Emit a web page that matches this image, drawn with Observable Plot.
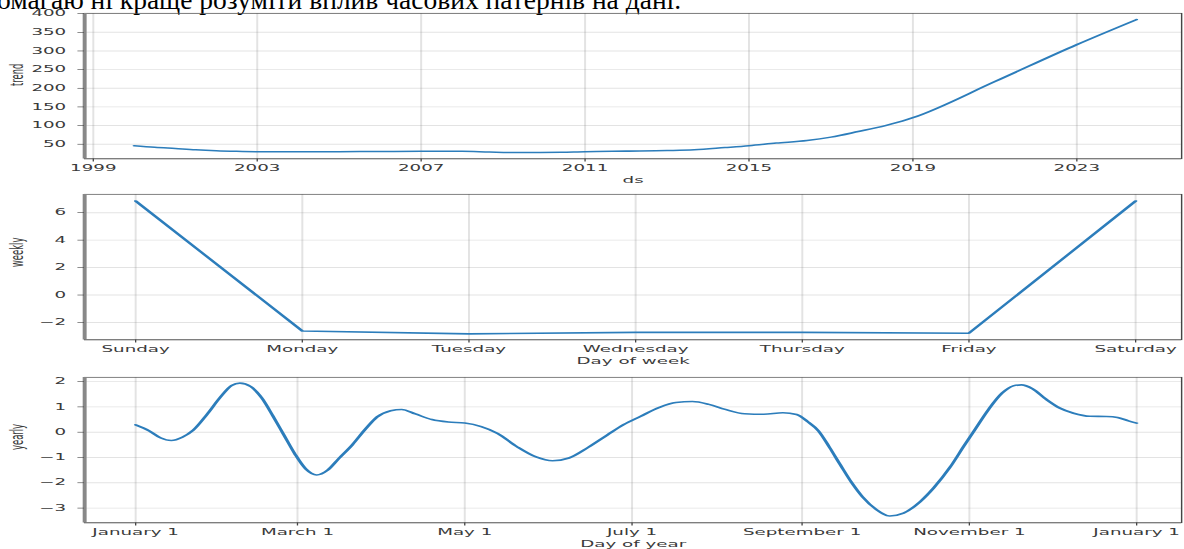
<!DOCTYPE html>
<html><head><meta charset="utf-8">
<script src="https://cdn.jsdelivr.net/npm/d3@7"></script>
<script src="https://cdn.jsdelivr.net/npm/@observablehq/plot@0.6"></script>
<style>
html,body{margin:0;padding:0;background:#fff;}
#wrap{position:relative;width:1184px;height:549px;overflow:hidden;background:#fff;}
#note{position:absolute;left:-3px;top:-14px;font-family:"Liberation Serif","Times New Roman",serif;font-size:27.5px;line-height:28px;color:#000;white-space:nowrap;}
</style></head><body>
<div id="wrap"><div id="note">омагаю ні краще розуміти вплив часових патернів на дані.</div></div>
<script>
// ---- data ----
const trendDates = ["2000-01-01","2000-07-01","2001-01-01","2001-07-01","2002-01-01","2002-07-01","2003-01-01","2004-01-01","2005-01-01","2006-01-01","2007-01-01","2008-01-01","2008-09-01","2009-06-01","2010-06-01","2011-01-01","2012-01-01","2013-01-01","2013-09-01","2014-06-01","2015-01-01","2015-09-01","2016-06-01","2017-01-01","2017-09-01","2018-05-01","2018-11-01","2019-01-01","2021-01-01","2023-01-01","2024-06-15"];
const trendValues = [46,42,38.5,35,32.5,31,30,29.5,30,30.5,31,31,29,27.5,28.5,30,31.5,33,35,41,46,53,60,69,84,100,115,121,218,317,384];

const weekdays = ["Sunday","Monday","Tuesday","Wednesday","Thursday","Friday","Saturday"];
const weeklyValues = [6.85,-2.62,-2.83,-2.72,-2.72,-2.78,6.85];

const yearlyDays = [0,5,9,13,17,21,26,31,35,38,42,46,50,54,58,62,66,70,74,79,84,88,93,97,102,108,114,120,126,132,139,146,152,158,165,172,178,184,191,197,203,209,215,222,229,236,241,245,249,253,257,261,265,270,275,280,286,291,297,302,306,311,316,320,323,327,332,337,342,348,354,358,362,365];
const yearlyValues = [0.29,0.05,-0.22,-0.33,-0.2,0.08,0.7,1.4,1.85,1.94,1.8,1.35,0.65,-0.1,-0.85,-1.45,-1.69,-1.5,-1.05,-0.5,0.15,0.6,0.85,0.9,0.72,0.5,0.4,0.36,0.22,-0.05,-0.57,-0.98,-1.13,-1.02,-0.6,-0.11,0.3,0.62,0.98,1.17,1.21,1.1,0.9,0.73,0.71,0.77,0.7,0.42,0.05,-0.6,-1.3,-1.98,-2.55,-3.05,-3.31,-3.2,-2.75,-2.2,-1.38,-0.55,0.1,0.9,1.55,1.83,1.87,1.72,1.3,0.95,0.75,0.63,0.62,0.58,0.45,0.36];

const trendTickDates = ["1999-01-01","2003-01-01","2007-01-01","2011-01-01","2015-01-01","2019-01-01","2023-01-01"];
const trendTickLabels = ["1999","2003","2007","2011","2015","2019","2023"];
const trendYTicks = [50,100,150,200,250,300,350,400];
const weeklyXTicks = [0,1,2,3,4,5,6];
const weeklyYTicks = [-2,0,2,4,6];
const yearlyTickDays = [0,59,120,181,243,304,365];
const yearlyTickLabels = ["January 1","March 1","May 1","July 1","September 1","November 1","January 1"];
const yearlyYTicks = [-3,-2,-1,0,1,2];

const axisLabels = {trend: ["ds","trend"], weekly: ["Day of week","weekly"], yearly: ["Day of year","yearly"]};

// ---- drawing ----
const wrap = document.getElementById("wrap");
const W = 900, SY = 182 / 300;
const ML = 63.85, MR = 2.3, MT = 21.4, FH = 239.8;
const LINE = "#2c7dbb";
const FS = 13.9;
const num = d => d < 0 ? "\u2212" + Math.abs(d) : String(d);

function common({xTicks, xFormat, yTicks, x0, y0, xLabel, yLabel}) {
  return [
    Plot.gridX(xTicks, {stroke: "gray", strokeOpacity: 0.22, strokeWidth: 1.5}),
    Plot.gridY(yTicks, {stroke: "gray", strokeOpacity: 0.22, strokeWidth: 1.5}),
    Plot.frame({stroke: "#444", strokeWidth: 1.1}),
    Plot.ruleX([x0], {stroke: "#888", strokeWidth: 3}),
    Plot.ruleY([y0], {stroke: "#777", strokeWidth: 2}),
    Plot.axisX(xTicks, {tickFormat: xFormat, tickSize: 5, tickPadding: 5, label: null, fontSize: FS, stroke: "#444", fill: "#3a3a3a"}),
    Plot.axisY(yTicks, {tickFormat: num, tickSize: 5, tickPadding: 9, label: null, fontSize: FS, stroke: "#444", fill: "#3a3a3a"}),
    Plot.text([xLabel], {frameAnchor: "bottom", dy: 36, text: d => d, lineAnchor: "middle", fontSize: FS, fill: "#3a3a3a"}),
    Plot.text([yLabel], {frameAnchor: "left", dx: -51, rotate: -90, text: d => d, lineAnchor: "middle", fontSize: FS, fill: "#3a3a3a"})
  ];
}

function panel(top, height, x, y, marks) {
  const svg = Plot.plot({
    width: W, height,
    marginLeft: ML, marginRight: MR, marginTop: MT, marginBottom: height - MT - FH,
    x, y,
    style: {fontFamily: "DejaVu Sans", fontSize: FS + "px", background: "transparent", overflow: "visible"},
    marks
  });
  svg.setAttribute("preserveAspectRatio", "none");
  Object.assign(svg.style, {position: "absolute", left: "0px", top: top + "px", width: "1184px", height: (height * SY) + "px", maxWidth: "none", overflow: "visible"});
  wrap.appendChild(svg);
}

// trend
const trendData = trendDates.map((d, i) => ({date: new Date(d), value: trendValues[i]}));
const tx0 = new Date("1998-10-16"), ty0 = 11;
panel(0, 300,
  {type: "utc", domain: [tx0, new Date("2025-07-23")]},
  {domain: [ty0, 401]},
  [
    ...common({xTicks: trendTickDates.map(d => new Date(d)), xFormat: d => trendTickLabels[trendTickDates.indexOf(d.toISOString().slice(0,10))], yTicks: trendYTicks, x0: tx0, y0: ty0, xLabel: axisLabels.trend[0], yLabel: axisLabels.trend[1]}),
    Plot.line(trendData, {x: "date", y: "value", stroke: LINE, strokeWidth: 2.5, curve: "monotone-x"})
  ]);

// weekly
const weeklyData = weekdays.map((d, i) => ({i, value: weeklyValues[i]}));
panel(181, 300,
  {domain: [-0.306, 6.276]},
  {domain: [-3.26, 7.34]},
  [
    ...common({xTicks: weeklyXTicks, xFormat: d => weekdays[d], yTicks: weeklyYTicks, x0: -0.306, y0: -3.26, xLabel: axisLabels.weekly[0], yLabel: axisLabels.weekly[1]}),
    Plot.line(weeklyData, {x: "i", y: "value", stroke: LINE, strokeWidth: 2.6})
  ]);

// yearly
const yearlyData = yearlyDays.map((d, i) => ({day: d, value: yearlyValues[i]}));
panel(364, 310,
  {domain: [-18.6, 381.4]},
  {domain: [-3.58, 2.17]},
  [
    ...common({xTicks: yearlyTickDays, xFormat: d => yearlyTickLabels[yearlyTickDays.indexOf(d)], yTicks: yearlyYTicks, x0: -18.6, y0: -3.58, xLabel: axisLabels.yearly[0], yLabel: axisLabels.yearly[1]}),
    Plot.line(yearlyData, {x: "day", y: "value", stroke: LINE, strokeWidth: 2.6, curve: "monotone-x"})
  ]);
</script>
</body></html>
